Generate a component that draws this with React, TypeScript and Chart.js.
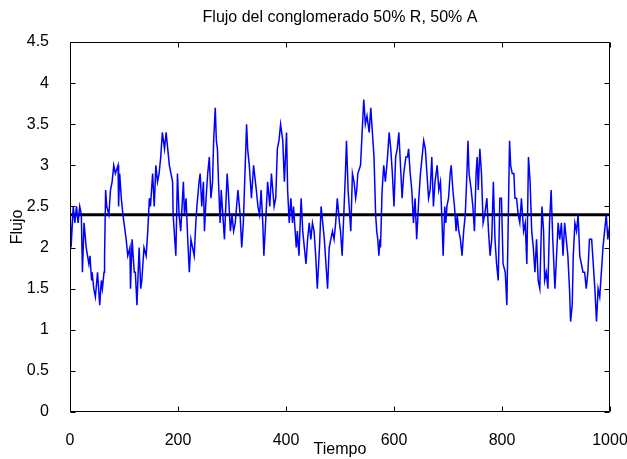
import React, { useEffect, useRef } from "react";
import { Chart, registerables } from "chart.js";

Chart.register(...registerables);

const TITLE = "Flujo del conglomerado 50% R, 50% A";
const X_LABEL = "Tiempo";
const Y_LABEL = "Flujo";

const tiempo = [
  0, 2, 6, 9, 12, 15, 18, 21, 23, 26, 30, 35, 37, 40, 41, 44, 47, 51, 55, 58,
  60, 63, 64, 66, 68, 72, 75, 78, 81, 84, 89, 90, 92, 95, 98, 100, 104, 107, 111, 112,
  115, 119, 121, 124, 128, 131, 133, 137, 141, 144, 147, 149, 153, 156, 159, 162, 165, 168, 171, 175,
  178, 181, 184, 187, 190, 191, 193, 196, 199, 202, 205, 210, 212, 215, 218, 221, 224, 227, 230, 233,
  235, 239, 241, 244, 247, 249, 252, 255, 258, 261, 264, 266, 269, 271, 273, 275, 278, 280, 283, 286,
  291, 293, 297, 300, 303, 306, 311, 315, 318, 321, 327, 329, 332, 336, 340, 345, 348, 351, 354, 357,
  359, 363, 366, 370, 373, 378, 381, 384, 387, 390, 394, 397, 401, 403, 406, 409, 412, 414, 417, 419,
  421, 424, 428, 431, 434, 437, 440, 443, 446, 449, 452, 455, 458, 462, 465, 468, 471, 474, 477, 480,
  483, 486, 489, 492, 495, 499, 501, 504, 507, 510, 512, 515, 517, 520, 523, 526, 529, 531, 533, 538,
  541, 544, 547, 550, 554, 557, 560, 563, 566, 568, 570, 572, 574, 575, 578, 581, 584, 588, 591, 594,
  597, 600, 603, 606, 609, 612, 615, 618, 622, 625, 627, 630, 633, 636, 639, 642, 646, 649, 652, 655,
  658, 661, 664, 667, 670, 673, 676, 680, 683, 686, 689, 691, 694, 696, 698, 701, 704, 706, 709, 712,
  715, 717, 720, 723, 726, 729, 732, 735, 737, 739, 743, 746, 749, 752, 754, 756, 759, 762, 765, 768,
  772, 775, 778, 781, 784, 787, 790, 793, 796, 799, 802, 806, 809, 812, 814, 816, 819, 822, 824, 827,
  830, 833, 836, 840, 843, 846, 849, 852, 855, 858, 861, 864, 867, 870, 874, 877, 879, 882, 885, 888,
  891, 894, 898, 901, 904, 907, 910, 913, 916, 919, 922, 925, 927, 930, 932, 935, 938, 941, 944, 947,
  950, 953, 956, 959, 962, 966, 969, 972, 975, 978, 981, 984, 987, 990, 993, 996, 1000,
];

const flujo = [
  2.5, 2.0, 2.5, 2.3, 2.5, 2.3, 2.5, 2.4, 1.7, 2.3, 2.0, 1.8, 1.9, 1.6, 1.7, 1.5, 1.4, 1.7, 1.3, 1.6,
  1.5, 1.7, 1.9, 2.7, 2.5, 2.4, 2.7, 2.8, 3.0, 2.9, 3.0, 2.5, 2.9, 2.6, 2.4, 2.3, 2.1, 1.9, 2.0, 1.5,
  2.1, 1.7, 1.7, 1.3, 2.0, 1.5, 1.6, 2.0, 1.9, 2.2, 2.6, 2.5, 2.9, 2.5, 3.0, 2.8, 2.9, 3.1, 3.4, 3.2,
  3.4, 3.2, 3.0, 2.9, 2.8, 2.4, 2.2, 1.9, 2.9, 2.4, 2.2, 2.8, 2.4, 2.6, 2.1, 1.7, 2.1, 2.0, 1.9, 2.3,
  2.5, 2.8, 2.9, 2.5, 2.8, 2.2, 2.6, 2.9, 3.1, 2.6, 2.8, 3.3, 3.7, 3.3, 3.2, 2.8, 2.3, 2.7, 2.4, 2.1,
  2.9, 2.7, 2.2, 2.4, 2.2, 2.3, 2.7, 2.4, 2.0, 2.3, 3.5, 3.2, 3.0, 2.6, 3.0, 2.7, 2.5, 2.4, 2.7, 2.3,
  1.9, 2.4, 2.8, 2.5, 2.9, 2.5, 2.6, 3.2, 3.3, 3.5, 3.3, 2.8, 3.4, 2.7, 2.3, 2.6, 2.3, 2.5, 2.2, 2.0,
  2.2, 1.9, 2.6, 2.2, 2.0, 1.8, 2.1, 2.3, 2.1, 2.3, 2.2, 1.9, 1.5, 2.0, 2.5, 2.3, 2.1, 1.8, 1.5, 2.0,
  2.1, 2.2, 2.1, 2.3, 2.6, 2.3, 2.2, 1.9, 2.4, 2.9, 3.3, 2.7, 2.5, 2.2, 2.9, 2.8, 2.6, 2.7, 2.9, 3.0,
  3.4, 3.8, 3.5, 3.6, 3.4, 3.7, 3.4, 3.1, 2.4, 2.2, 2.1, 1.9, 2.1, 2.0, 2.7, 3.0, 2.8, 3.1, 3.4, 3.2,
  2.9, 2.5, 3.1, 3.2, 3.4, 3.0, 2.6, 2.9, 3.1, 3.1, 3.2, 2.9, 2.7, 2.3, 2.6, 2.1, 2.6, 2.9, 3.1, 3.3,
  3.2, 2.9, 2.6, 2.7, 3.1, 2.5, 2.8, 3.0, 2.7, 2.8, 2.3, 1.9, 2.5, 2.3, 2.5, 2.6, 2.9, 3.0, 2.7, 2.5,
  2.2, 2.4, 2.2, 2.1, 1.9, 2.2, 2.4, 2.9, 3.3, 2.9, 2.7, 2.5, 2.2, 2.9, 3.1, 2.7, 3.2, 2.9, 2.3, 2.4,
  2.6, 2.2, 1.9, 2.1, 2.8, 2.1, 1.8, 1.6, 2.6, 2.6, 1.8, 1.7, 1.3, 2.5, 3.3, 3.0, 2.9, 2.9, 2.6, 2.6,
  2.4, 2.3, 2.6, 2.2, 2.3, 1.8, 3.1, 2.8, 2.2, 2.0, 1.7, 2.1, 1.6, 1.5, 2.5, 2.2, 1.6, 1.7, 1.5, 2.3,
  2.7, 2.1, 1.5, 1.9, 2.3, 2.1, 2.3, 1.9, 2.3, 2.1, 1.9, 1.5, 1.1, 1.3, 1.9, 2.3, 2.2, 2.4, 1.9, 1.8,
  1.7, 1.7, 1.5, 1.7, 2.1, 2.1, 1.8, 1.5, 1.1, 1.5, 1.4, 1.7, 2.0, 2.2, 2.4, 2.1, 2.3,
];

const MEAN_FLUJO = 2.4;
const X_RANGE = [0, 1000];
const Y_RANGE = [0, 4.5];
const X_STEP = 200;
const Y_STEP = 0.5;

const FONT = "'Liberation Sans', Arial, sans-serif";

// Draws the plot title centred over the plot area, plus the boxed frame with inward ticks.
const boxPlugin = {
  id: "matlabBox",
  afterDraw(chart: any) {
    const { ctx, chartArea } = chart;
    const { left, right, top, bottom } = chartArea;
    const xs = chart.scales.x;
    const ys = chart.scales.y;
    ctx.save();
    ctx.fillStyle = "#000";
    ctx.font = `16px ${FONT}`;
    ctx.textAlign = "center";
    ctx.textBaseline = "middle";
    ctx.fillText(TITLE, (left + right) / 2, 18);

    ctx.strokeStyle = "#000";
    ctx.lineWidth = 1;
    const L = Math.round(left) + 0.5;
    const R = Math.round(right) - 0.5;
    const T = Math.round(top) + 0.5;
    const B = Math.round(bottom) - 0.5;
    ctx.beginPath();
    ctx.rect(L, T, R - L, B - T);
    ctx.stroke();
    const tl = 5;
    ctx.beginPath();
    xs.ticks.forEach((t: any) => {
      const px = Math.round(xs.getPixelForValue(t.value)) + 0.5;
      ctx.moveTo(px, B);
      ctx.lineTo(px, B - tl);
      ctx.moveTo(px, T);
      ctx.lineTo(px, T + tl);
    });
    ys.ticks.forEach((t: any) => {
      const py = Math.round(ys.getPixelForValue(t.value)) + 0.5;
      ctx.moveTo(L, py);
      ctx.lineTo(L + tl, py);
      ctx.moveTo(R, py);
      ctx.lineTo(R - tl, py);
    });
    ctx.stroke();
    ctx.restore();
  },
};

export default function App() {
  const ref = useRef<HTMLCanvasElement | null>(null);

  useEffect(() => {
    if (!ref.current) return;
    const seriesData = tiempo.map((t, i) => ({ x: t, y: flujo[i] }));
    const meanData = [
      { x: X_RANGE[0], y: MEAN_FLUJO },
      { x: X_RANGE[1], y: MEAN_FLUJO },
    ];
    const chart = new Chart(ref.current, {
      type: "line",
      data: {
        datasets: [
          {
            label: "Flujo",
            data: seriesData,
            borderColor: "#0000ff",
            borderWidth: 1.5,
            pointRadius: 0,
            tension: 0,
            fill: false,
          },
          {
            label: "Media",
            data: meanData,
            borderColor: "#000000",
            borderWidth: 3,
            pointRadius: 0,
            tension: 0,
            fill: false,
          },
        ],
      },
      options: {
        animation: false,
        responsive: false,
        layout: { padding: { left: 0, right: 0, top: 42, bottom: 0 } },
        plugins: {
          legend: { display: false },
          tooltip: { enabled: false },
          title: { display: false },
        },
        scales: {
          x: {
            type: "linear",
            min: X_RANGE[0],
            max: X_RANGE[1],
            grid: { display: false },
            border: { display: false },
            ticks: {
              stepSize: X_STEP,
              color: "#000",
              padding: 11,
              maxRotation: 0,
              font: { family: FONT, size: 16 },
              callback: (v: any) => `${+v}`,
            },
            title: {
              display: true,
              text: X_LABEL,
              color: "#000",
              font: { family: FONT, size: 16 },
              padding: { top: 0, bottom: 0 },
            },
            afterFit: (s: any) => {
              s.height = 47;
              s.paddingRight = 17;
              s.paddingLeft = 0;
            },
          },
          y: {
            type: "linear",
            min: Y_RANGE[0],
            max: Y_RANGE[1],
            grid: { display: false },
            border: { display: false },
            ticks: {
              stepSize: Y_STEP,
              color: "#000",
              padding: 13,
              font: { family: FONT, size: 16 },
              callback: (v: any) => `${+v}`,
            },
            title: {
              display: true,
              text: Y_LABEL,
              color: "#000",
              font: { family: FONT, size: 16 },
              padding: { top: 8, bottom: 0 },
            },
            afterFit: (s: any) => {
              s.width = 70;
              s.paddingTop = 0;
              s.paddingBottom = 0;
            },
          },
        },
      },
      plugins: [boxPlugin],
    });
    return () => chart.destroy();
  }, []);

  return (
    <div style={{ position: "absolute", left: 0, top: 0, width: 627, height: 459, background: "#fff" }}>
      <canvas ref={ref} width={627} height={459} style={{ display: "block" }} />
    </div>
  );
}
